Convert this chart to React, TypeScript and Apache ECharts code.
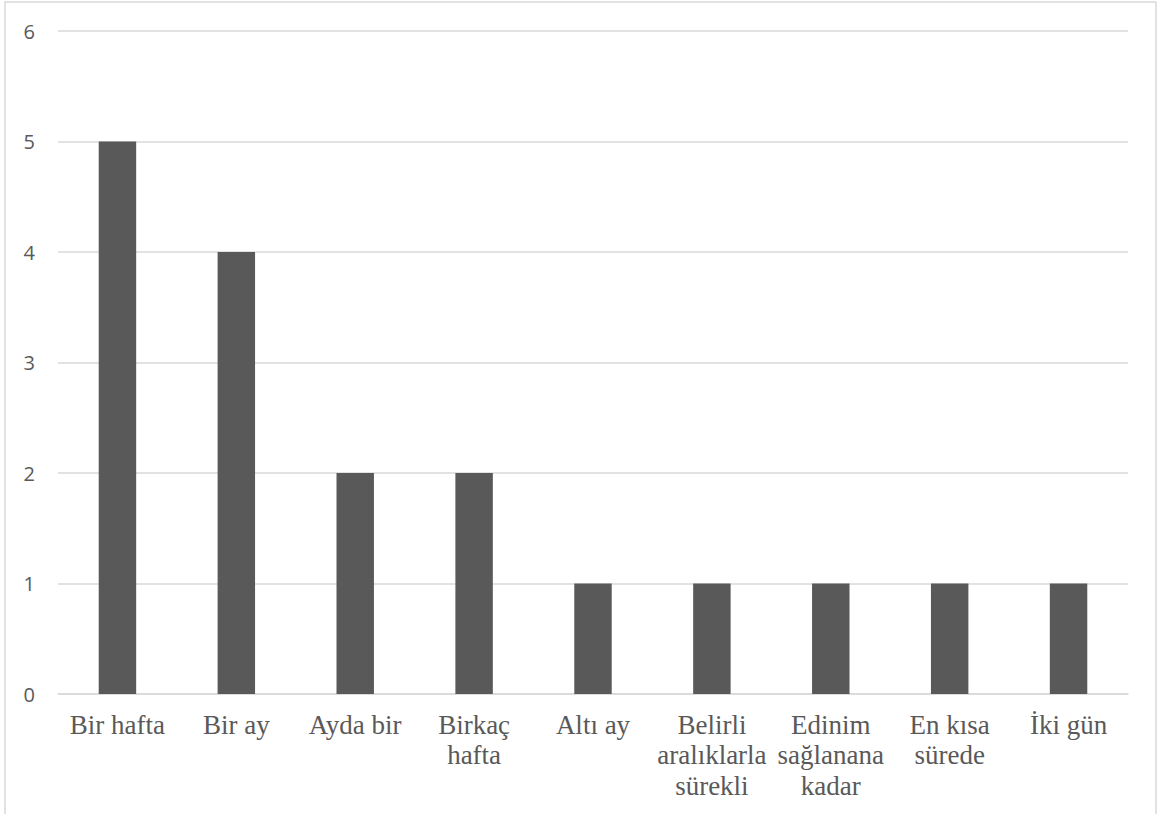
import React, { useEffect, useRef } from "react";
import * as echarts from "echarts";

const categories = [
  "Bir hafta",
  "Bir ay",
  "Ayda bir",
  "Birkaç\nhafta",
  "Altı ay",
  "Belirli\naralıklarla\nsürekli",
  "Edinim\nsağlanana\nkadar",
  "En kısa\nsürede",
  "İki gün",
];
const counts = [5, 4, 2, 2, 1, 1, 1, 1, 1];
const yMin = 0;
const yMax = 6;
const yStep = 1;

const serif = "Liberation Serif";
const LINE_GAP = 30.5;

// Category names are wrapped over up to three lines; each line sits on its
// own bottom axis, stacked below the first one.
const lineRows = [0, 1, 2].map((row) =>
  categories.map((c) => c.split("\n")[row] ?? "")
);

export default function App() {
  const ref = useRef<HTMLDivElement>(null);

  useEffect(() => {
    if (!ref.current) return;
    const chart = echarts.init(ref.current, null, { renderer: "svg" });
    const xAxes = lineRows.map((rowData, row) => ({
      type: "category",
      data: rowData,
      position: "bottom",
      offset: row * LINE_GAP,
      axisLine: {
        show: row === 0,
        lineStyle: { color: "#d9d9d9", width: 1.5 },
      },
      axisTick: { show: false },
      axisLabel: {
        interval: 0,
        margin: 17,
        color: "#595959",
        fontFamily: serif,
        fontSize: 27,
      },
    }));
    chart.setOption({
      animation: false,
      backgroundColor: "#ffffff",
      textStyle: { fontFamily: serif },
      graphic: [
        {
          type: "rect",
          shape: { x: 5, y: 2, width: 1151, height: 900 },
          style: { fill: "none", stroke: "#d9d9d9", lineWidth: 1.5 },
          silent: true,
        },
      ],
      grid: { left: 58, right: 34, top: 31, bottom: 120 },
      xAxis: xAxes,
      yAxis: {
        type: "value",
        min: yMin,
        max: yMax,
        interval: yStep,
        axisLine: { show: false },
        axisTick: { show: false },
        splitLine: { lineStyle: { color: "#d9d9d9", width: 1.5 } },
        axisLabel: {
          margin: 23,
          color: "#595959",
          fontFamily: "Open Sans",
          fontSize: 20,
        },
      },
      series: [
        {
          type: "bar",
          xAxisIndex: 0,
          data: counts,
          barWidth: "31.5%",
          itemStyle: { color: "#595959" },
        },
      ],
    });
    return () => chart.dispose();
  }, []);

  return (
    <div
      ref={ref}
      style={{ position: "absolute", left: 0, top: 0, width: 1162, height: 814 }}
    />
  );
}
